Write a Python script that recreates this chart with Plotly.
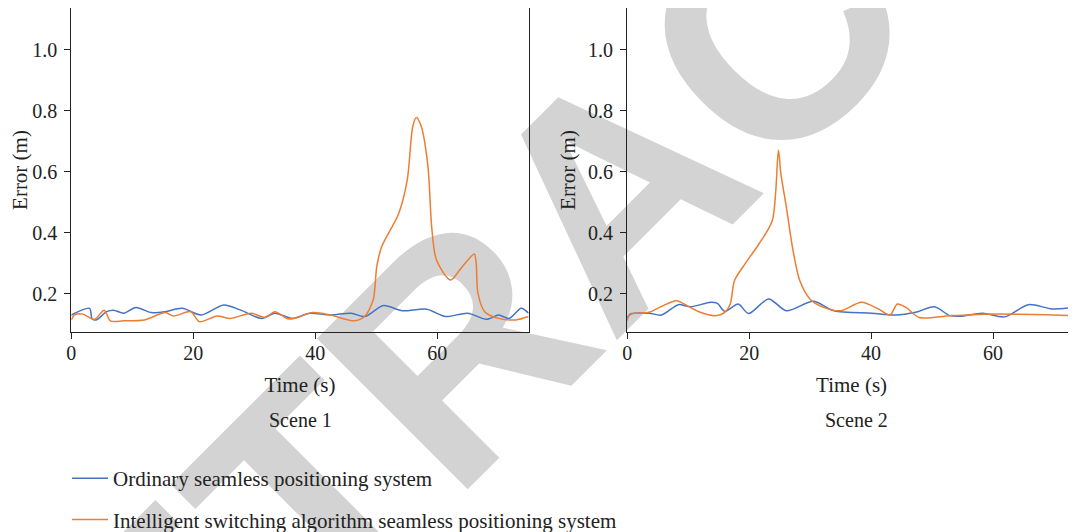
import plotly.graph_objects as go

# ---------------- data ----------------
s1_blue_t = [0, 3.0, 3.4, 4.1, 5.8, 6.9, 8.6, 10.6, 13.1, 15.4, 18.2, 21.3, 25.0, 27.8, 31.2,
             33.4, 36.3, 39.1, 42.5, 45.9, 48.1, 51.2, 54.3, 58.3, 61.4, 65.0, 68.1, 70.1,
             71.8, 73.8, 75.0]
s1_blue_v = [0.130, 0.152, 0.118, 0.114, 0.141, 0.146, 0.136, 0.155, 0.138, 0.141, 0.152, 0.130,
             0.163, 0.146, 0.119, 0.136, 0.119, 0.136, 0.130, 0.136, 0.125, 0.161, 0.144, 0.149,
             0.125, 0.136, 0.116, 0.130, 0.119, 0.152, 0.136]

s1_orange_t = [0, 0.5, 1.9, 3.8, 5.4, 6.4, 8.6, 12.0, 15.4, 16.8, 19.6, 21.0, 23.9, 26.1, 29.5,
               31.8, 33.4, 35.7, 39.6, 42.5, 46.4, 48.1, 49.5, 50.1, 50.9, 53.7, 55.1, 56.0,
               56.6, 57.4, 58.5, 59.1, 59.9, 62.2, 63.9, 66.1, 66.4, 66.7, 67.8, 70.1, 72.9, 75.0]
s1_orange_v = [0.114, 0.130, 0.133, 0.116, 0.146, 0.111, 0.111, 0.114, 0.138, 0.127, 0.141, 0.108,
               0.127, 0.119, 0.136, 0.122, 0.141, 0.117, 0.138, 0.130, 0.111, 0.125, 0.179, 0.289,
               0.354, 0.463, 0.573, 0.748, 0.778, 0.748, 0.616, 0.420, 0.310, 0.245, 0.283, 0.330,
               0.300, 0.201, 0.141, 0.119, 0.114, 0.125]

s2_blue_t = [0, 0.6, 3.6, 5.6, 8.4, 10.4, 13.7, 14.8, 16.0, 18.2, 19.9, 23.2, 26.1, 30.5, 33.9,
             40.1, 44.0, 47.3, 50.4, 52.9, 54.6, 58.3, 61.9, 65.8, 69.7, 73.6, 75.8]
s2_blue_v = [0.122, 0.133, 0.136, 0.130, 0.164, 0.157, 0.172, 0.168, 0.142, 0.166, 0.135, 0.183,
             0.144, 0.175, 0.144, 0.136, 0.130, 0.139, 0.157, 0.128, 0.126, 0.136, 0.124, 0.164,
             0.150, 0.155, 0.157]

s2_orange_t = [0, 0.4, 1.4, 3.6, 5.3, 8.1, 9.8, 12.0, 14.3, 16.0, 16.9, 17.6, 19.3, 21.6, 23.8,
               24.8, 25.2, 26.1, 27.2, 28.3, 30.0, 32.2, 35.0, 38.4, 41.2, 43.1, 44.3, 45.7,
               47.9, 52.9, 58.5, 64.1, 73.6, 75.8]
s2_orange_v = [0.111, 0.133, 0.136, 0.139, 0.155, 0.177, 0.161, 0.139, 0.128, 0.139, 0.166, 0.243,
               0.297, 0.363, 0.440, 0.670, 0.593, 0.484, 0.341, 0.243, 0.182, 0.155, 0.144, 0.172,
               0.150, 0.130, 0.166, 0.155, 0.122, 0.128, 0.133, 0.133, 0.128, 0.128]

series_names = ["Ordinary seamless positioning system",
                "Intelligent switching algorithm seamless positioning system"]
scene_labels = ["Scene 1", "Scene 2"]
x_ticks = [0, 20, 40, 60]
y_ticks = [0.2, 0.4, 0.6, 0.8, 1.0]
y_tick_text = ["0.2", "0.4", "0.6", "0.8", "1.0"]

BLUE = "#4472C4"
ORANGE = "#ED7D31"
FONT = "Liberation Serif"
INK = "#222"
# the page adds an 8 px body margin, so the figure is 8 px smaller than the window
W, H = 1068, 524

fig = go.Figure()

def add(t, v, color, name, xa, ya, show, group):
    fig.add_trace(go.Scatter(x=t, y=v, mode="lines", name=name, xaxis=xa, yaxis=ya,
                             line=dict(color=color, width=1.5, shape="spline", smoothing=0.8),
                             showlegend=show, legendgroup=group, hoverinfo="skip"))

add(s1_blue_t, s1_blue_v, BLUE, series_names[0], "x", "y", True, "a")
add(s1_orange_t, s1_orange_v, ORANGE, series_names[1], "x", "y", True, "b")
add(s2_blue_t, s2_blue_v, BLUE, series_names[0], "x2", "y2", False, "a")
add(s2_orange_t, s2_orange_v, ORANGE, series_names[1], "x2", "y2", False, "b")

ydom = [1 - 324 / H, 1.0]
yrange = [0.0744, 1.1367]
axis_common = dict(showgrid=False, zeroline=False, showline=True, linecolor=INK,
                   linewidth=1.3, ticks="outside", ticklen=6, tickcolor=INK,
                   automargin=False,
                   tickfont=dict(family=FONT, size=20, color=INK))
xaxis_extra = dict(ticklabelstandoff=-3,
                   title=dict(text="Time (s)", font=dict(family=FONT, size=21, color=INK),
                              standoff=14))
yaxis_extra = dict(ticklabelstandoff=3,
                   title=dict(text="Error (m)", font=dict(family=FONT, size=21, color=INK),
                              standoff=6))

fig.update_layout(
    width=W, height=H,
    margin=dict(l=0, r=0, t=0, b=0, autoexpand=False),
    paper_bgcolor="white", plot_bgcolor="rgba(0,0,0,0)",
    font=dict(family=FONT, size=20, color=INK),
    xaxis=dict(domain=[63.3 / W, 520.6 / W], range=[0, 75], tickvals=x_ticks, mirror=True,
               anchor="y", **xaxis_extra, **axis_common),
    yaxis=dict(domain=ydom, range=yrange, tickvals=y_ticks, ticktext=y_tick_text,
               mirror=True, anchor="x", **yaxis_extra, **axis_common),
    xaxis2=dict(domain=[619.2 / W, 1.0], range=[0, 73.6], tickvals=x_ticks, mirror=True,
                anchor="y2", **xaxis_extra, **axis_common),
    yaxis2=dict(domain=ydom, range=yrange, tickvals=y_ticks, ticktext=y_tick_text,
                mirror=False, anchor="x2", **yaxis_extra, **axis_common),
    legend=dict(x=59 / W, y=1 - 450 / H, xanchor="left", yanchor="top",
                font=dict(family=FONT, size=21, color=INK), tracegroupgap=11,
                itemwidth=36, bgcolor="rgba(0,0,0,0)", itemclick=False),
)

# scene captions
for lab, cx in zip(scene_labels, [292 / W, 848 / W]):
    fig.add_annotation(text=lab, x=cx, y=1 - 412 / H, xref="paper", yref="paper",
                       showarrow=False, xanchor="center", yanchor="middle",
                       font=dict(family=FONT, size=20, color=INK))

# watermark drawn beneath the traces
wx, wy = 586 / W, 1 - 162 / H
fig.add_shape(type="rect", xref="paper", yref="paper", x0=wx - 0.05, x1=wx + 0.05,
              y0=wy - 0.05, y1=wy + 0.05,
              line=dict(width=0), fillcolor="rgba(0,0,0,0)", layer="below",
              label=dict(text="RETRACTED", textangle=-45, textposition="middle center",
                         font=dict(family="Liberation Sans", size=310, color="#d3d3d3",
                                   weight="bold")))

fig.write_html("out.html")
